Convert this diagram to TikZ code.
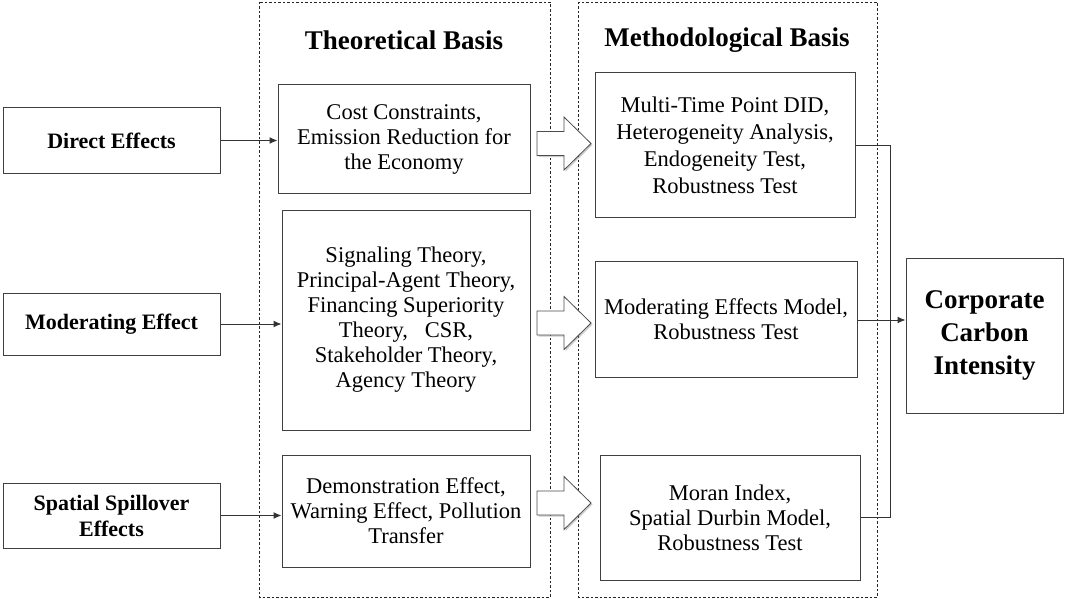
\documentclass[tikz,border=0pt]{standalone}
\usepackage{fontspec}
\setmainfont{Liberation Serif}
\usetikzlibrary{shadows,arrows.meta}
\tikzset{
    effect box/.style={draw=black!75, line width=1pt, minimum width=217pt,
        align=center, inner sep=0pt, font=\fontsize{22}{26}\selectfont\bfseries},
    basis box/.style={draw=black!75, line width=1pt, align=center, inner sep=0pt,
        font=\fontsize{22.5}{25}\selectfont},
    frame box/.style={draw=black!85, dash pattern=on 2.5pt off 2pt, line width=0.8pt},
    title text/.style={font=\fontsize{27}{30}\selectfont\bfseries},
    link/.style={draw=black!80, line width=1pt},
    link arrow/.style={link, -{Latex[length=8pt,width=7pt]}},
    hollow arrow/.style={draw=black!70, line width=0.8pt, fill=white,
        drop shadow={shadow xshift=1.5pt, shadow yshift=-1.5pt, opacity=.4}}
}

\begin{document}
\begin{tikzpicture}[x=1pt,y=-1pt]
        \useasboundingbox (0,0) rectangle (1065,599);
        % dashed frames
        \draw[frame box] (259,2) rectangle (550,597);
        \draw[frame box] (578,2) rectangle (877,597);
        \node[title text] (theory) at (404,40) {Theoretical Basis};
        \node[title text] (method) at (727,40) {Methodological Basis};
        % effects
        \node[effect box, minimum height=65pt] (direct) at (111.5,140.5) {Direct Effects};
        \node[effect box, minimum height=62pt] (moderating) at (111.5,324) {Moderating Effect};
        \node[effect box, minimum height=65pt] (spatial) at (111.5,515.5) {Spatial Spillover\\Effects};
        % theoretical basis
        \node[basis box, minimum width=252pt, minimum height=108pt] (cost) at (404,139)
            {Cost Constraints,\\Emission Reduction for\\the Economy};
        \node[basis box, minimum width=248pt, minimum height=220pt] (signal) at (406,320)
            {Signaling Theory,\\Principal-Agent Theory,\\Financing Superiority\\Theory,\ \ \ CSR,\\Stakeholder Theory,\\Agency Theory};
        \node[basis box, minimum width=248pt, minimum height=112pt] (demo) at (406,511)
            {Demonstration Effect,\\Warning Effect, Pollution\\Transfer};
        % methodological basis
        \node[basis box, minimum width=260pt, minimum height=144pt,
            font=\fontsize{22.5}{27}\selectfont] (did) at (725,145)
            {Multi-Time Point DID,\\Heterogeneity Analysis,\\Endogeneity Test,\\Robustness Test};
        \node[basis box, minimum width=262pt, minimum height=116pt] (model) at (726,319)
            {Moderating Effects Model,\\Robustness Test};
        \node[basis box, minimum width=260pt, minimum height=125pt] (moran) at (730,517.5)
            {Moran Index,\\Spatial Durbin Model,\\Robustness Test};
        % result
        \node[effect box, minimum width=157pt, minimum height=155pt,
            font=\fontsize{27}{33}\selectfont\bfseries] (carbon) at (984.5,335.5)
            {Corporate\\Carbon\\Intensity};
        % hollow arrows
        \foreach \y in {143.5,323,503}
            \draw[hollow arrow, shift={(537,\y)}] (0,-12) -- (27,-12) -- (27,-26.5)
                -- (54,0) -- (27,26.5) -- (27,12) -- (0,12) -- cycle;
        % connectors
        \draw[link arrow] (direct.east) -- (cost.west |- direct.east);
        \draw[link arrow] (moderating.east) -- (signal.west |- moderating.east);
        \draw[link arrow] (spatial.east) -- (demo.west |- spatial.east);
        \coordinate (join) at (890,320);
        \draw[link] (did.east) -| (join) |- (moran.east);
        \draw[link arrow] (model.east |- join) -- (carbon.west |- join);
    \end{tikzpicture}
\end{document}
